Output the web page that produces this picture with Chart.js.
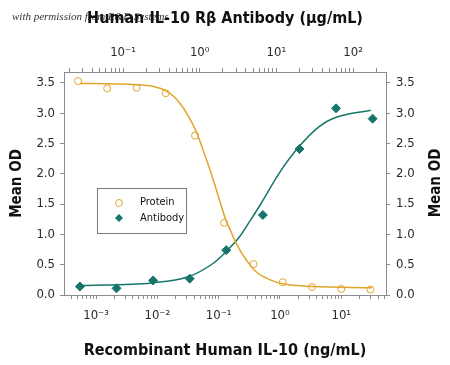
<!DOCTYPE html>
<html>
<head>
<meta charset="utf-8">
<script src="https://cdn.jsdelivr.net/npm/chart.js@4/dist/chart.umd.min.js"></script>
<style>
  html, body { margin: 0; padding: 0; background: #fff; }
  #wrap { width: 450px; height: 365px; position: relative; }
</style>
</head>
<body>
<div id="wrap"><canvas id="c" width="450" height="365"></canvas></div>
<script>
// ---- data ----
// Recombinant Human IL-10 (ng/mL), 3-fold dilutions (bottom axis)
const proteinConc = [0.000508, 0.00152, 0.00457, 0.0137, 0.0412, 0.123, 0.370, 1.11, 3.33, 10, 30];
const proteinOD   = [3.53, 3.41, 3.42, 3.33, 2.63, 1.19, 0.51, 0.21, 0.13, 0.10, 0.09];
// Human IL-10 Rβ Antibody (µg/mL), 3-fold dilutions (top axis)
const antibodyConc = [0.0274, 0.0823, 0.247, 0.741, 2.22, 6.67, 20, 60, 180];
const antibodyOD   = [0.14, 0.11, 0.24, 0.27, 0.74, 1.32, 2.41, 3.08, 2.91];
// fitted curves, points
const proteinFitConc = [0.000548, 0.0048, 0.01425, 0.0235, 0.0429, 0.0558, 0.0726, 0.0955, 0.1277, 0.155, 0.198, 0.384, 0.693, 1.17, 3.49, 31.7];
const proteinFitOD   = [3.49, 3.47, 3.36, 3.16, 2.70, 2.39, 2.06, 1.68, 1.27, 1.07, 0.83, 0.41, 0.25, 0.18, 0.14, 0.12];
const antibodyFitConc = [0.0277, 0.236, 0.705, 1.49, 2.11, 3.31, 4.46, 6.32, 10.9, 18.9, 36.1, 56.6, 170];
const antibodyFitOD   = [0.155, 0.20, 0.30, 0.52, 0.69, 0.96, 1.21, 1.51, 2.01, 2.42, 2.78, 2.92, 3.05];
// ticks
const yTickValues = [0, 0.5, 1.0, 1.5, 2.0, 2.5, 3.0, 3.5];
const bottomDecades = [-3, -2, -1, 0, 1];
const bottomTickLabels = ['10\u207B\u00B3', '10\u207B\u00B2', '10\u207B\u00B9', '10\u2070', '10\u00B9'];
const topDecades = [-1, 0, 1, 2];
const topTickLabels = ['10\u207B\u00B9', '10\u2070', '10\u00B9', '10\u00B2'];
const seriesNames = ['Protein', 'Antibody'];
const titles = {
  bottom: 'Recombinant Human IL-10 (ng/mL)',
  top: 'Human IL-10 R\u03B2 Antibody (\u03BCg/mL)',
  y: 'Mean OD',
  watermark: 'with permission from R&D Systems'
};

// ---- styling ----
const ORANGE = '#E2A52C';
const TEAL = '#16756A';
const AXIS = '#8c8c8c';
const TEXT = '#2a2a2a';
const NARROW = "'DejaVu Sans Condensed', 'Liberation Sans Narrow', sans-serif";

const toXY = (xs, ys) => xs.map((x, i) => ({ x: x, y: ys[i] }));
const isPow10 = v => Math.abs(Math.log10(v) - Math.round(Math.log10(v))) < 1e-9;

function logTicks(min, max) {
  const out = [];
  for (let e = Math.floor(Math.log10(min)); e <= Math.ceil(Math.log10(max)); e++) {
    for (let m = 1; m <= 9; m++) {
      const v = m * Math.pow(10, e);
      if (v >= min && v <= max) out.push({ value: v, major: m === 1 });
    }
  }
  return out;
}
function decadeLabel(decades, labels) {
  return function (value) {
    if (!isPow10(value)) return '';
    const i = decades.indexOf(Math.round(Math.log10(value)));
    return i >= 0 ? labels[i] : '';
  };
}

const fixedBox = {
  id: 'fixedBox',
  beforeDraw(chart) {
    const ctx = chart.ctx;
    ctx.save();
    ctx.fillStyle = '#fff';
    ctx.fillRect(0, 0, chart.width, chart.height);
    // watermark
    ctx.font = "italic 11px 'Liberation Serif', 'DejaVu Serif', serif";
    ctx.fillStyle = '#333';
    ctx.textBaseline = 'middle';
    ctx.textAlign = 'left';
    ctx.fillText(titles.watermark, 12, 17);
    ctx.restore();
  },
  afterDraw(chart) {
    const ctx = chart.ctx;
    ctx.save();
    // right axis title, reading bottom-to-top
    ctx.translate(436, 183);
    ctx.rotate(-Math.PI / 2);
    ctx.font = "bold 15px " + NARROW;
    ctx.fillStyle = '#111';
    ctx.textAlign = 'center';
    ctx.textBaseline = 'middle';
    ctx.fillText(titles.y, 0, 0);
    ctx.restore();

    // legend box
    ctx.save();
    ctx.fillStyle = '#fff';
    ctx.strokeStyle = '#7a7a7a';
    ctx.lineWidth = 1;
    ctx.fillRect(97, 188, 89, 45);
    ctx.strokeRect(97.5, 188.5, 89, 45);
    // protein symbol
    ctx.beginPath();
    ctx.arc(119, 203, 3.5, 0, Math.PI * 2);
    ctx.strokeStyle = ORANGE;
    ctx.stroke();
    // antibody symbol
    ctx.beginPath();
    ctx.moveTo(119, 214); ctx.lineTo(123, 218); ctx.lineTo(119, 222); ctx.lineTo(115, 218);
    ctx.closePath();
    ctx.fillStyle = TEAL;
    ctx.fill();
    ctx.fillStyle = '#111';
    ctx.font = "11px " + NARROW;
    ctx.textAlign = 'left';
    ctx.textBaseline = 'middle';
    ctx.fillText(seriesNames[0], 140, 202);
    ctx.fillText(seriesNames[1], 140, 218);
    ctx.restore();
  }
};

const tickFont = { family: NARROW, size: 13 };
const gridCfg = { drawOnChartArea: false, drawTicks: true, tickLength: 4, color: AXIS };
const borderCfg = { display: true, color: AXIS, width: 1 };

new Chart(document.getElementById('c'), {
  type: 'scatter',
  data: {
    datasets: [
      {
        label: seriesNames[0] + ' fit', data: toXY(proteinFitConc, proteinFitOD),
        showLine: true, pointRadius: 0, borderColor: ORANGE, borderWidth: 1.5,
        cubicInterpolationMode: 'monotone', xAxisID: 'x', yAxisID: 'y'
      },
      {
        label: seriesNames[1] + ' fit', data: toXY(antibodyFitConc, antibodyFitOD),
        showLine: true, pointRadius: 0, borderColor: TEAL, borderWidth: 1.5,
        cubicInterpolationMode: 'monotone', xAxisID: 'x2', yAxisID: 'y'
      },
      {
        label: seriesNames[0], data: toXY(proteinConc, proteinOD),
        showLine: false, pointStyle: 'circle', pointRadius: 3.5,
        pointBackgroundColor: 'rgba(255,255,255,0)', pointBorderColor: ORANGE, pointBorderWidth: 1,
        xAxisID: 'x', yAxisID: 'y'
      },
      {
        label: seriesNames[1], data: toXY(antibodyConc, antibodyOD),
        showLine: false, pointStyle: 'rectRot', pointRadius: 4.5,
        pointBackgroundColor: TEAL, pointBorderColor: TEAL, pointBorderWidth: 1,
        xAxisID: 'x2', yAxisID: 'y'
      }
    ]
  },
  options: {
    responsive: false,
    animation: false,
    devicePixelRatio: 1,
    layout: { padding: 0 },
    plugins: { legend: { display: false }, tooltip: { enabled: false } },
    scales: {
      x: {
        type: 'logarithmic', position: 'bottom',
        min: 3.02e-4, max: 53.7,
        afterBuildTicks: s => { s.ticks = logTicks(3.02e-4, 53.7); },
        afterFit: s => { s.height = 70; },
        ticks: { callback: decadeLabel(bottomDecades, bottomTickLabels), autoSkip: false, maxRotation: 0, color: TEXT, font: tickFont, padding: 9 },
        grid: gridCfg, border: borderCfg,
        title: { display: true, text: titles.bottom, color: '#111', font: { family: NARROW, size: 16, weight: 'bold' }, padding: { top: 0, bottom: 5 } }
      },
      x2: {
        type: 'logarithmic', position: 'top',
        min: 0.017, max: 269,
        afterBuildTicks: s => { s.ticks = logTicks(0.017, 269); },
        afterFit: s => { s.height = 72; },
        ticks: { callback: decadeLabel(topDecades, topTickLabels), autoSkip: false, maxRotation: 0, color: TEXT, font: tickFont, padding: 8 },
        grid: gridCfg, border: borderCfg,
        title: { display: true, text: titles.top, color: '#111', font: { family: NARROW, size: 16, weight: 'bold' }, padding: { top: 9, bottom: 0 } }
      },
      y: {
        type: 'linear', position: 'left',
        min: 0, max: 3.68,
        afterBuildTicks: s => { s.ticks = yTickValues.map(v => ({ value: v })); },
        afterFit: s => { s.width = 64; },
        ticks: { callback: v => Number(v).toFixed(1), color: TEXT, font: tickFont, padding: 5 },
        grid: gridCfg, border: borderCfg,
        title: { display: true, text: titles.y, color: '#111', font: { family: NARROW, size: 15, weight: 'bold' }, padding: { top: 8, bottom: 0 } }
      },
      y2: {
        type: 'linear', position: 'right',
        min: 0, max: 3.68,
        afterBuildTicks: s => { s.ticks = yTickValues.map(v => ({ value: v })); },
        afterFit: s => { s.width = 64; },
        ticks: { callback: v => Number(v).toFixed(1), color: TEXT, font: tickFont, padding: 6 },
        grid: gridCfg, border: borderCfg
      }
    }
  },
  plugins: [fixedBox]
});
</script>
</body>
</html>
